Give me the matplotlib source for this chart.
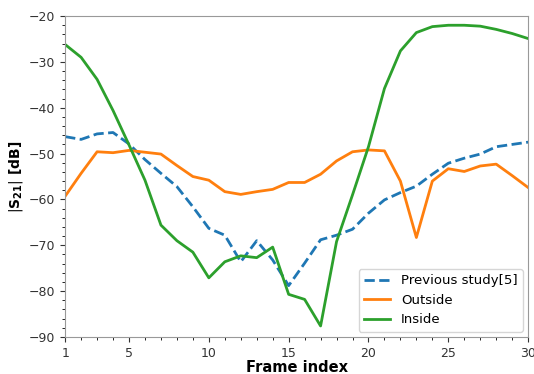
import matplotlib.pyplot as plt
from matplotlib.ticker import MultipleLocator

frames = list(range(1, 31))

previous = [-46.3, -46.9, -45.7, -45.4, -47.9, -51.3, -54.3, -57.2, -61.6, -66.3,
            -67.8, -73.6, -69.0, -73.2, -78.8, -73.9, -68.8, -67.8, -66.5, -63.0,
            -60.1, -58.5, -57.1, -54.5, -52.1, -51.0, -50.1, -48.5, -48.0, -47.5]
outside = [-59.3, -54.3, -49.6, -49.8, -49.3, -49.7, -50.1, -52.6, -55.0, -55.8,
           -58.3, -58.9, -58.3, -57.8, -56.3, -56.3, -54.5, -51.6, -49.6, -49.2,
           -49.4, -56.0, -68.3, -56.0, -53.3, -53.9, -52.7, -52.3, -54.8, -57.4]
inside = [-26.2, -29.0, -33.8, -40.6, -48.1, -55.8, -65.6, -69.0, -71.5, -77.1,
          -73.6, -72.3, -72.7, -70.4, -80.7, -81.8, -87.6, -69.2, -59.0, -48.5,
          -35.8, -27.6, -23.6, -22.3, -22.0, -22.0, -22.2, -22.9, -23.8, -24.9]

fig = plt.figure(figsize=(5.34, 3.74), dpi=100)
ax = fig.add_axes([0.122, 0.099, 0.867, 0.858])

ax.plot(frames, previous, '--', color='tab:blue', lw=2, label='Previous study[5]')
ax.plot(frames, outside, color='tab:orange', lw=2, label='Outside')
ax.plot(frames, inside, color='tab:green', lw=2, label='Inside')

ax.set_xlim(1, 30)
ax.set_ylim(-90, -20)
ax.set_xticks([1, 5, 10, 15, 20, 25, 30])
ax.xaxis.set_minor_locator(MultipleLocator(1))
ax.yaxis.set_minor_locator(MultipleLocator(2))
ax.tick_params(labelsize=9, colors='#333333')
for s in ax.spines.values():
    s.set_color('#999999')

ax.set_xlabel('Frame index', fontsize=10.5, fontweight='bold', labelpad=0)
ax.set_ylabel(r'$|\mathbf{S}_{\mathbf{21}}|$ [dB]', fontsize=10, fontweight='bold', labelpad=3)
ax.legend(loc='lower right', fontsize=9.5, borderaxespad=0.4)

fig.savefig('out.png', dpi=100)
